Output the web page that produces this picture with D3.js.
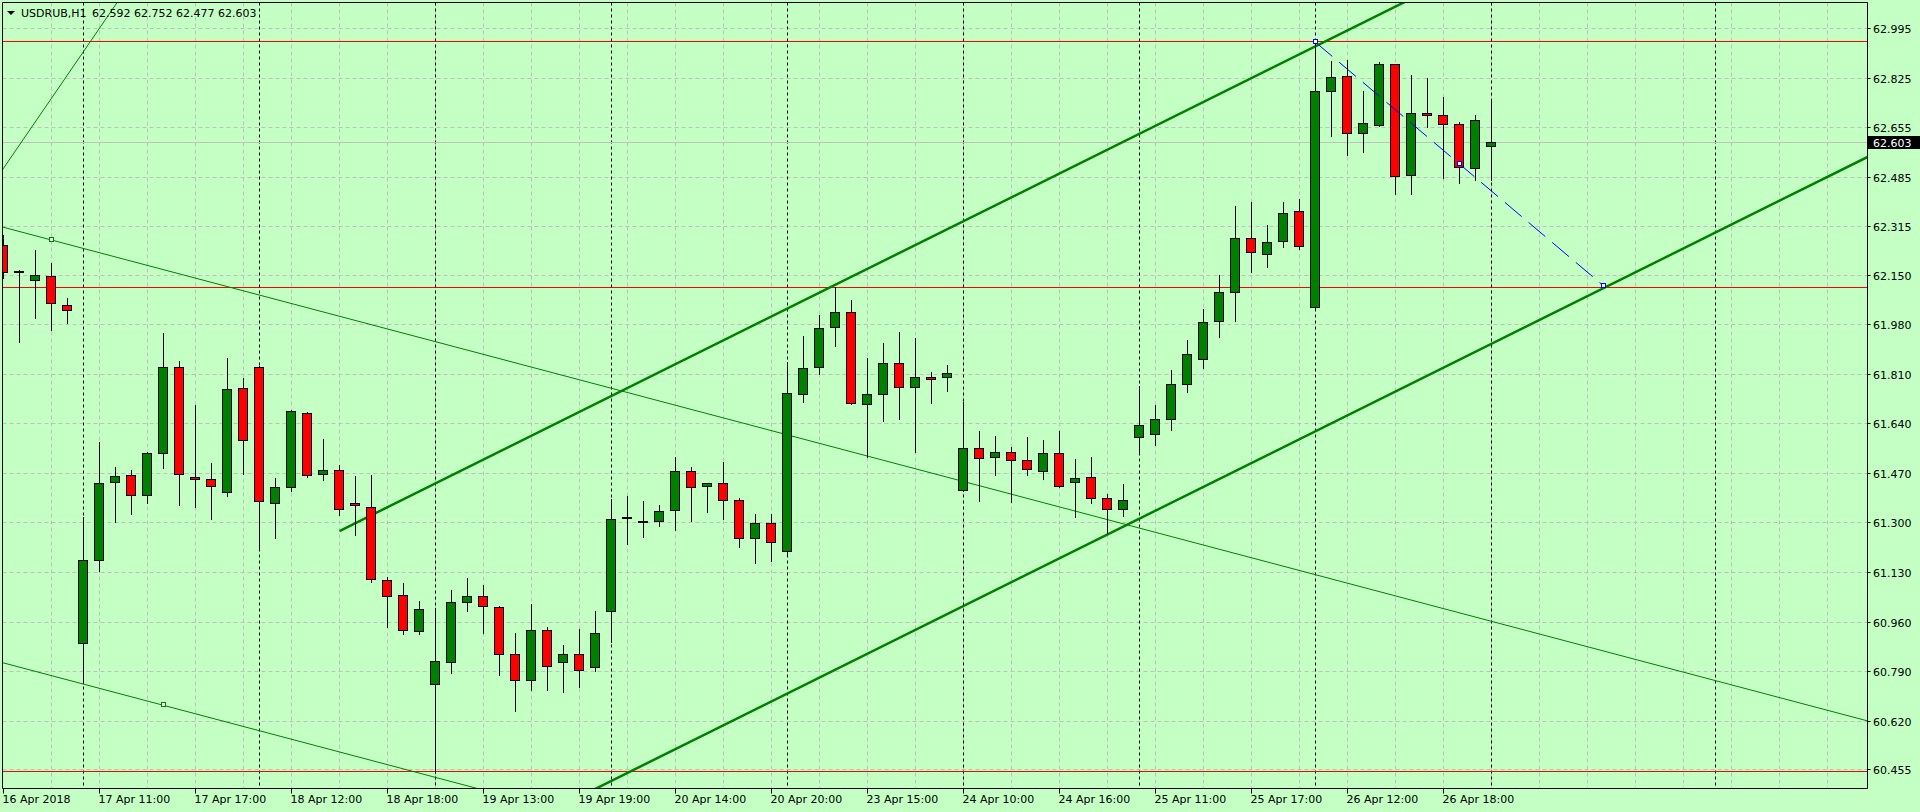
<!DOCTYPE html>
<html>
<head>
<meta charset="utf-8">
<script src="https://cdn.jsdelivr.net/npm/d3@7"></script>
<style>
  html, body { margin: 0; padding: 0; background: #c4ffc4; overflow: hidden; }
  text { font-family: "DejaVu Sans", sans-serif; font-size: 11px; }
</style>
</head>
<body>
<svg id="chart" width="1920" height="812"></svg>
<script>
// USDRUB H1 candles, oldest first
const opens = [62.252,62.162,62.132,62.146,62.047,60.887,61.173,61.440,61.464,61.395,
  61.539,61.834,61.457,61.450,61.406,61.762,61.834,61.368,61.423,61.677,
  61.467,61.481,61.368,61.354,61.104,61.053,60.929,60.747,60.823,61.029,
  61.049,61.011,60.850,60.761,60.933,60.823,60.850,60.806,60.998,61.319,
  61.306,61.306,61.344,61.478,61.426,61.437,61.378,61.248,61.299,61.203,
  61.742,61.834,61.971,62.023,61.707,61.742,61.848,61.766,61.800,61.797,
  61.413,61.557,61.526,61.543,61.515,61.478,61.539,61.440,61.457,61.385,
  61.347,61.594,61.602,61.654,61.774,61.859,61.991,62.091,62.276,62.222,
  62.266,62.366,62.040,62.780,62.832,62.636,62.664,62.873,62.492,62.705,
  62.698,62.667,62.516,62.592];
const highs = [62.288,62.166,62.236,62.191,62.071,61.322,61.578,61.491,61.481,61.544,
  61.952,61.855,61.705,61.506,61.866,61.798,61.839,61.455,61.688,61.681,
  61.587,61.499,61.461,61.465,61.114,61.094,61.033,61.008,61.070,61.112,
  61.086,61.016,60.923,61.022,60.943,60.882,60.938,60.999,61.382,61.393,
  61.376,61.362,61.527,61.492,61.438,61.509,61.385,61.330,61.330,61.851,
  61.942,62.014,62.108,62.065,61.865,61.918,61.955,61.935,61.817,61.841,
  61.716,61.616,61.599,61.560,61.595,61.585,61.616,61.520,61.527,61.401,
  61.434,61.769,61.705,61.825,61.928,62.034,62.151,62.387,62.401,62.321,
  62.400,62.410,62.948,62.883,62.887,62.780,62.880,62.873,62.835,62.825,
  62.760,62.674,62.698,62.752];
const lows = [62.141,61.922,62.004,61.962,61.984,60.752,61.137,61.305,61.332,61.370,
  61.490,61.360,61.356,61.312,61.394,61.469,61.215,61.247,61.411,61.456,
  61.449,61.329,61.260,61.099,60.942,60.918,60.918,60.443,60.785,60.999,
  60.924,60.780,60.654,60.726,60.726,60.722,60.739,60.792,60.891,61.227,
  61.251,61.291,61.277,61.308,61.339,61.315,61.219,61.164,61.171,61.190,
  61.716,61.812,61.905,61.707,61.526,61.651,61.655,61.545,61.713,61.754,
  61.410,61.377,61.463,61.373,61.466,61.452,61.424,61.322,61.367,61.265,
  61.325,61.535,61.568,61.619,61.750,61.832,61.936,61.991,62.159,62.179,
  62.246,62.239,62.031,62.628,62.560,62.570,62.662,62.429,62.426,62.659,
  62.481,62.464,62.475,62.477];
const closes = [62.160,62.162,62.150,62.054,62.030,61.173,61.437,61.461,61.395,61.539,
  61.834,61.467,61.450,61.426,61.759,61.584,61.375,61.423,61.683,61.463,
  61.481,61.347,61.361,61.107,61.049,60.930,61.005,60.826,61.029,61.049,
  61.015,60.850,60.761,60.933,60.809,60.850,60.795,60.922,61.313,61.319,
  61.306,61.341,61.478,61.423,61.437,61.378,61.248,61.299,61.234,61.745,
  61.831,61.968,62.023,61.711,61.742,61.848,61.766,61.797,61.793,61.814,
  61.557,61.522,61.543,61.515,61.485,61.539,61.426,61.454,61.385,61.347,
  61.378,61.635,61.654,61.774,61.876,61.988,62.091,62.276,62.228,62.263,
  62.362,62.249,62.780,62.828,62.636,62.671,62.873,62.489,62.705,62.698,
  62.667,62.520,62.681,62.603];

// axis labels
const timeTickIdx = [0,6,12,18,24,30,36,42,48,54,60,66,72,78,84,90];
const timeTickLabels = ["16 Apr 2018","17 Apr 11:00","17 Apr 17:00","18 Apr 12:00",
  "18 Apr 18:00","19 Apr 13:00","19 Apr 19:00","20 Apr 14:00","20 Apr 20:00",
  "23 Apr 15:00","24 Apr 10:00","24 Apr 16:00","25 Apr 11:00","25 Apr 17:00",
  "26 Apr 12:00","26 Apr 18:00"];
const priceTicks = [62.995,62.825,62.655,62.485,62.315,62.150,61.980,61.810,
  61.640,61.470,61.300,61.130,60.960,60.790,60.620,60.455];
const priceTickLabels = ["62.995","62.825","62.655","62.485","62.315","62.150","61.980","61.810",
  "61.640","61.470","61.300","61.130","60.960","60.790","60.620","60.455"];
const daySeparators = [5,16,27,38,49,60,71,82,93,107];

// drawn objects
const hLevels = [62.950, 62.108, 60.447];
const lastPrice = 62.603;
const symbolTitle = "USDRUB,H1";
const ohlcTitle = "62.592 62.752 62.477 62.603";
const channelUpper = [[21, 61.2725], [82, 62.934]];
const channelLower = [[21, 59.953], [100, 62.105]];
const thinLineA = [[0, 62.516], [7, 63.076]];
const thinLineB = [[3, 62.270], [110, 60.716]];
const thinLineC = [[10, 60.675], [40, 60.239]];
const thinMarkers = [[3, 62.270], [10, 60.675]];
const blueLine = [[82, 62.948], [100, 62.113]];
const blueMarkers = [[82, 62.948], [91, 62.5305], [100, 62.113]];

const plotLeft = 2.5, plotRight = 1867.5, plotTop = 2.5, plotBottom = 788.5;
const nBars = opens.length;

const x = d3.scaleLinear().domain([0, nBars - 1]).range([3.5, 3.5 + 16 * (nBars - 1)]);
const y = d3.scaleLinear().domain([60.455, 62.995]).range([769.5, 28.5]);
const ry = v => Math.round(y(v) - 0.5) + 0.5;

const svg = d3.select("#chart");

svg.append("defs").append("clipPath").attr("id", "plot")
  .append("rect").attr("x", 3).attr("y", 3).attr("width", plotRight - 3).attr("height", plotBottom - 3);

const plot = svg.append("g").attr("clip-path", "url(#plot)");

// grid
const gridIdx = d3.range(3, 117, 3);
plot.selectAll(".vgrid").data(gridIdx).enter().append("line")
  .attr("x1", d => x(d)).attr("x2", d => x(d))
  .attr("y1", plotTop).attr("y2", plotBottom)
  .attr("stroke", "#c0c0c0").attr("stroke-dasharray", "4,3");
plot.selectAll(".hgrid").data(priceTicks).enter().append("line")
  .attr("x1", plotLeft).attr("x2", plotRight)
  .attr("y1", d => ry(d)).attr("y2", d => ry(d))
  .attr("stroke", "#c0c0c0").attr("stroke-dasharray", "4,3");

// day separators
plot.selectAll(".sep").data(daySeparators).enter().append("line")
  .attr("x1", d => x(d)).attr("x2", d => x(d))
  .attr("y1", plotTop).attr("y2", plotBottom)
  .attr("stroke", "#000").attr("stroke-dasharray", "3,3");

// last price line
plot.append("line").attr("x1", plotLeft).attr("x2", plotRight)
  .attr("y1", ry(lastPrice)).attr("y2", ry(lastPrice))
  .attr("stroke", "#c0c0c0");

// horizontal levels
plot.selectAll(".hl").data(hLevels).enter().append("line")
  .attr("x1", plotLeft).attr("x2", plotRight)
  .attr("y1", d => ry(d)).attr("y2", d => ry(d))
  .attr("stroke", "#ff0000");

// extend a line through two anchors to a range of bar indices
function extend(pts, i0, i1) {
  const [[a, pa], [b, pb]] = pts;
  const k = (pb - pa) / (b - a);
  return [[i0, pa + k * (i0 - a)], [i1, pa + k * (i1 - a)]];
}
const lineGen = d3.line().x(d => x(d[0])).y(d => y(d[1]));

plot.append("path").attr("d", lineGen(extend(thinLineA, -5, 20)))
  .attr("stroke", "#008000").attr("fill", "none");
plot.append("path").attr("d", lineGen(extend(thinLineB, -5, 130)))
  .attr("stroke", "#008000").attr("fill", "none");
plot.append("path").attr("d", lineGen(extend(thinLineC, -5, 130)))
  .attr("stroke", "#008000").attr("fill", "none");
plot.append("path").attr("d", lineGen(extend(channelUpper, 21, 130)))
  .attr("stroke", "#008000").attr("stroke-width", 2.5).attr("fill", "none");
plot.append("path").attr("d", lineGen(extend(channelLower, 21, 130)))
  .attr("stroke", "#008000").attr("stroke-width", 2.5).attr("fill", "none");

// candles
const bars = plot.selectAll(".bar").data(d3.range(nBars)).enter().append("g");
bars.append("line")
  .attr("x1", i => x(i)).attr("x2", i => x(i))
  .attr("y1", i => Math.round(y(highs[i]))).attr("y2", i => Math.round(y(lows[i])) + 1)
  .attr("stroke", "#000");
bars.append("rect")
  .attr("x", i => x(i) - 5)
  .attr("width", 9)
  .attr("y", i => ry(Math.max(opens[i], closes[i])))
  .attr("height", i => Math.max(1, ry(Math.min(opens[i], closes[i])) - ry(Math.max(opens[i], closes[i]))))
  .attr("fill", i => closes[i] >= opens[i] ? "#008000" : "#ff0000")
  .attr("stroke", "#000");

// blue dashed line and markers
plot.append("path").attr("d", lineGen(blueLine))
  .attr("stroke", "#0000ff").attr("fill", "none").attr("stroke-dasharray", "22,9");
plot.selectAll(".bm").data(blueMarkers).enter().append("rect")
  .attr("x", d => Math.round(x(d[0])) - 2.5).attr("y", d => Math.round(y(d[1])) - 2.5)
  .attr("width", 4).attr("height", 4)
  .attr("fill", "#fff").attr("stroke", "#0000ff");
plot.selectAll(".tm").data(thinMarkers).enter().append("rect")
  .attr("x", d => Math.round(x(d[0])) - 2.5).attr("y", d => Math.round(y(d[1])) - 2.5)
  .attr("width", 4).attr("height", 4)
  .attr("fill", "#fff").attr("stroke", "#008000");

// frame
svg.append("path")
  .attr("d", `M${plotLeft},${plotBottom}V${plotTop}H${plotRight}V${plotBottom}H${plotLeft}`)
  .attr("fill", "none").attr("stroke", "#000");

// price axis
const yAxis = svg.append("g");
yAxis.selectAll("line").data(priceTicks).enter().append("line")
  .attr("x1", plotRight).attr("x2", plotRight + 3)
  .attr("y1", d => ry(d)).attr("y2", d => ry(d)).attr("stroke", "#000");
yAxis.selectAll("text").data(priceTicks).enter().append("text")
  .attr("x", 1873).attr("y", d => ry(d) + 4)
  .text((d, i) => priceTickLabels[i]);

svg.append("rect").attr("x", 1868).attr("y", ry(lastPrice) - 6.5)
  .attr("width", 52).attr("height", 13).attr("fill", "#000");
svg.append("text").attr("x", 1873).attr("y", ry(lastPrice) + 4)
  .attr("fill", "#fff").text(lastPrice.toFixed(3));

// time axis
const xAxis = svg.append("g");
xAxis.selectAll("line").data(timeTickIdx).enter().append("line")
  .attr("x1", d => x(d)).attr("x2", d => x(d))
  .attr("y1", plotBottom).attr("y2", plotBottom + 5).attr("stroke", "#000");
xAxis.selectAll("text").data(timeTickIdx).enter().append("text")
  .attr("x", d => x(d) - 1).attr("y", 803)
  .text((d, i) => timeTickLabels[i]);

// title
svg.append("path").attr("d", "M7,11H15L11,15Z").attr("fill", "#000");
svg.append("text").attr("x", 21).attr("y", 17).text(symbolTitle);
svg.append("text").attr("x", 92).attr("y", 17).text(ohlcTitle);
</script>
</body>
</html>
